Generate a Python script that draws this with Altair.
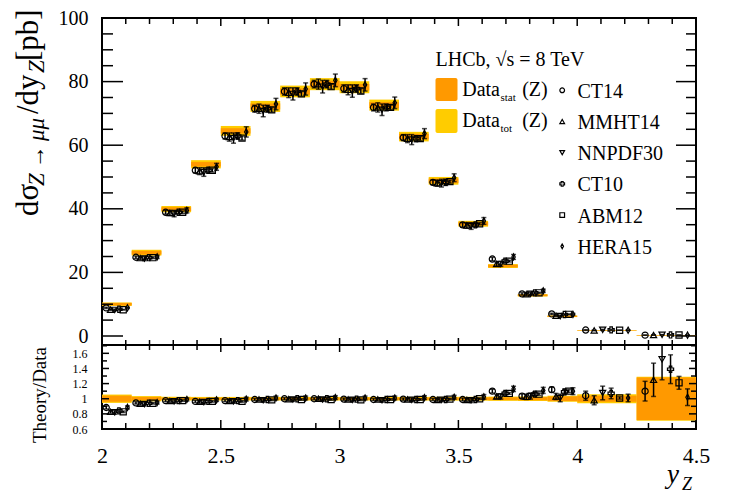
import altair as alt
import pandas as pd

FONT = "Liberation Serif"
ORANGE = "#FF9900"
YELLOW = "#FFCC00"

# ---------------- data ----------------
bin_lo = [2.0, 2.125, 2.25, 2.375, 2.5, 2.625, 2.75, 2.875, 3.0, 3.125, 3.25, 3.375, 3.5, 3.625, 3.75, 3.875, 4.0, 4.25]
bin_hi = [2.125, 2.25, 2.375, 2.5, 2.625, 2.75, 2.875, 3.0, 3.125, 3.25, 3.375, 3.5, 3.625, 3.75, 3.875, 4.0, 4.25, 4.5]
data_xsec = [10.0, 26.2, 39.9, 54.0, 64.5, 72.2, 76.9, 79.2, 78.2, 72.6, 62.7, 48.8, 35.3, 22.0, 12.8, 6.2, 1.8, 0.25]
stat_rel = [0.04, 0.022, 0.014, 0.013, 0.013, 0.013, 0.013, 0.013, 0.013, 0.013, 0.014, 0.015, 0.016, 0.018, 0.02, 0.03, 0.04, 0.28]
tot_rel = [0.055, 0.035, 0.025, 0.024, 0.024, 0.024, 0.024, 0.024, 0.024, 0.024, 0.024, 0.025, 0.026, 0.028, 0.03, 0.04, 0.06, 0.29]

pdf_names = ["CT14", "MMHT14", "NNPDF30", "CT10", "ABM12", "HERA15"]
ratio_ct14 = [0.884, 0.945, 0.975, 0.965, 0.975, 0.99, 1.0, 1.0, 0.995, 0.99, 0.995, 0.99, 0.99, 1.10, 1.035, 1.12, 1.04, 1.10]
ratio_mmht14 = [0.827, 0.935, 0.97, 0.96, 0.97, 0.99, 0.995, 1.0, 0.99, 0.99, 0.99, 0.985, 0.985, 1.03, 1.025, 1.03, 0.98, 1.25]
ratio_nnpdf30 = [0.82, 0.93, 0.965, 0.955, 0.965, 0.98, 0.99, 0.99, 0.985, 0.98, 0.985, 0.985, 0.98, 1.03, 1.035, 1.01, 1.076, 1.52]
ratio_ct10 = [0.84, 0.94, 0.975, 0.965, 0.975, 0.99, 1.0, 1.0, 0.995, 0.99, 0.99, 0.99, 0.99, 1.07, 1.06, 1.09, 1.07, 1.39]
ratio_abm12 = [0.827, 0.94, 0.975, 0.965, 0.965, 0.985, 0.99, 0.99, 0.985, 0.99, 0.99, 0.995, 1.0, 1.07, 1.06, 1.10, 1.01, 1.21]
ratio_hera15 = [0.885, 0.95, 0.99, 0.985, 0.995, 1.01, 1.01, 1.015, 1.01, 1.01, 1.015, 1.02, 1.025, 1.13, 1.11, 1.10, 1.01, 1.02]

err_ct14 = [0.02, 0.015, 0.015, 0.015, 0.015, 0.015, 0.015, 0.015, 0.015, 0.015, 0.015, 0.015, 0.02, 0.025, 0.03, 0.035, 0.06, 0.13]
err_mmht14 = [0.02, 0.02, 0.02, 0.02, 0.02, 0.02, 0.02, 0.02, 0.02, 0.02, 0.02, 0.02, 0.025, 0.03, 0.035, 0.04, 0.06, 0.22]
err_nnpdf30 = [0.025, 0.025, 0.025, 0.025, 0.025, 0.025, 0.025, 0.025, 0.025, 0.025, 0.025, 0.025, 0.03, 0.035, 0.04, 0.05, 0.09, 0.27]
err_ct10 = [0.02, 0.015, 0.015, 0.015, 0.015, 0.015, 0.015, 0.015, 0.015, 0.015, 0.015, 0.02, 0.02, 0.025, 0.03, 0.035, 0.07, 0.19]
err_abm12 = [0.01, 0.01, 0.01, 0.01, 0.01, 0.01, 0.01, 0.01, 0.01, 0.01, 0.01, 0.01, 0.01, 0.012, 0.015, 0.02, 0.015, 0.085]
err_hera15 = [0.02, 0.02, 0.02, 0.02, 0.025, 0.025, 0.025, 0.025, 0.025, 0.025, 0.025, 0.025, 0.03, 0.035, 0.04, 0.045, 0.05, 0.11]

ratios = [ratio_ct14, ratio_mmht14, ratio_nnpdf30, ratio_ct10, ratio_abm12, ratio_hera15]
errors = [err_ct14, err_mmht14, err_nnpdf30, err_ct10, err_abm12, err_hera15]

# tick values / labels
x_major = [2.0, 2.5, 3.0, 3.5, 4.0, 4.5]
x_minor = [2.1, 2.2, 2.3, 2.4, 2.6, 2.7, 2.8, 2.9, 3.1, 3.2, 3.3, 3.4, 3.6, 3.7, 3.8, 3.9, 4.1, 4.2, 4.3, 4.4]
ytop_major = [0, 20, 40, 60, 80, 100]
ytop_minor = [5, 10, 15, 25, 30, 35, 45, 50, 55, 65, 70, 75, 85, 90, 95]
ylow_major = [0.6, 0.8, 1.0, 1.2, 1.4, 1.6]
ylow_minor = [0.7, 0.9, 1.1, 1.3, 1.5, 1.7]

# shapes: circle, triangle, inverted triangle, open cross, square, narrow diamond
pdf_shapes = ["circle", "triangle-up", "triangle-down", "cross", "square",
              "M0,-1L0.55,0L0,1L-0.55,0Z"]

# ---------------- tables ----------------
ddf = pd.DataFrame({"lo": bin_lo, "hi": bin_hi, "val": data_xsec,
                    "srel": stat_rel, "trel": tot_rel})
ddf["t_lo"] = ddf.val * (1 - ddf.trel)
ddf["t_hi"] = ddf.val * (1 + ddf.trel)
ddf["s_lo"] = ddf.val * (1 - ddf.srel)
ddf["s_hi"] = ddf.val * (1 + ddf.srel)
ddf["rt_lo"] = 1 - ddf.trel
ddf["rt_hi"] = 1 + ddf.trel
ddf["rs_lo"] = 1 - ddf.srel
ddf["rs_hi"] = 1 + ddf.srel

rows = []
for i, name in enumerate(pdf_names):
    for j in range(len(bin_lo)):
        r = ratios[i][j]
        e = errors[i][j]
        d = data_xsec[j]
        rows.append({
            "pdf": name,
            "x": bin_lo[j] + (i + 1) / 7.0 * (bin_hi[j] - bin_lo[j]),
            "r": r, "r_lo": r - e, "r_hi": r + e,
            "v": r * d, "v_lo": (r - e) * d, "v_hi": (r + e) * d,
        })
tdf = pd.DataFrame(rows)

ONE = pd.DataFrame({"k": [0]})

W = 594
H_TOP = 327
H_LOW = 84

XS = alt.Scale(domain=[2.0, 4.5], nice=False, zero=False)
YS_TOP = alt.Scale(domain=[-2.83, 100], nice=False, zero=False)
YS_LOW = alt.Scale(domain=[0.6, 1.71], nice=False, zero=False)

AX_Y_TOP = alt.Axis(values=ytop_major, ticks=False, domain=False, grid=False,
                    labelFont=FONT, labelFontSize=20, labelPadding=14,
                    labelColor="black", labelOverlap=False, labelFlush=False, title=None)
AX_Y_LOW = alt.Axis(values=ylow_major, format=".1~f", ticks=False, domain=False, grid=False,
                    labelFont=FONT, labelFontSize=12, labelPadding=15,
                    labelColor="black", labelOverlap=False, labelFlush=False, title=None)
AX_X_LOW = alt.Axis(values=x_major, format=".1~f", ticks=False, domain=False, grid=False,
                    labelFont=FONT, labelFontSize=22, labelPadding=16,
                    labelColor="black", labelOverlap=False, labelFlush=False, title=None)

SHAPE = alt.Shape("pdf:N", scale=alt.Scale(domain=pdf_names, range=pdf_shapes), legend=None)


def txt(s, x, y, size, style="normal", angle=0, align="left", baseline="alphabetic"):
    return alt.Chart(ONE).mark_text(
        text=s, font=FONT, fontSize=size, fontStyle=style, angle=angle,
        align=align, baseline=baseline, color="black"
    ).encode(x=alt.value(x), y=alt.value(y))


def xticks(values, xaxis, y0, y1):
    return alt.Chart(pd.DataFrame({"v": values})).mark_rule(color="black", strokeWidth=1.5).encode(
        x=alt.X("v:Q", scale=XS, axis=xaxis), y=alt.value(y0), y2=alt.value(y1))


def yticks(values, ys, yaxis, x0, x1):
    return alt.Chart(pd.DataFrame({"v": values})).mark_rule(color="black", strokeWidth=1.5).encode(
        y=alt.Y("v:Q", scale=ys, axis=yaxis), x=alt.value(x0), x2=alt.value(x1))


# ---------------- top panel ----------------
top_layers = []
top_layers.append(alt.Chart(ddf).mark_rect(color=YELLOW).encode(
    x=alt.X("lo:Q", scale=XS, axis=None), x2="hi:Q",
    y=alt.Y("t_lo:Q", scale=YS_TOP, axis=AX_Y_TOP), y2="t_hi:Q"))
top_layers.append(alt.Chart(ddf).mark_rect(color=ORANGE).encode(
    x=alt.X("lo:Q", scale=XS, axis=None), x2="hi:Q",
    y=alt.Y("s_lo:Q", scale=YS_TOP, axis=AX_Y_TOP), y2="s_hi:Q"))
top_layers.append(alt.Chart(tdf).mark_rule(color="black", strokeWidth=1.5).encode(
    x=alt.X("x:Q", scale=XS, axis=None),
    y=alt.Y("v_lo:Q", scale=YS_TOP, axis=AX_Y_TOP), y2="v_hi:Q"))
for fld in ["v_lo", "v_hi"]:
    top_layers.append(alt.Chart(tdf).mark_tick(orient="horizontal", size=5, thickness=1.5, color="black").encode(
        x=alt.X("x:Q", scale=XS, axis=None),
        y=alt.Y(fld + ":Q", scale=YS_TOP, axis=AX_Y_TOP)))
top_layers.append(alt.Chart(tdf).mark_point(filled=False, size=38, strokeWidth=1.2, color="black", opacity=1).encode(
    x=alt.X("x:Q", scale=XS, axis=None),
    y=alt.Y("v:Q", scale=YS_TOP, axis=AX_Y_TOP), shape=SHAPE))

# frame ticks
top_layers.append(xticks(x_minor, None, 0, 6))
top_layers.append(xticks(x_major, None, 0, 8))
top_layers.append(xticks(x_minor, None, H_TOP, H_TOP - 5))
top_layers.append(xticks(x_major, None, H_TOP, H_TOP - 7))
top_layers.append(yticks(ytop_minor, YS_TOP, AX_Y_TOP, 0, 11))
top_layers.append(yticks(ytop_major, YS_TOP, AX_Y_TOP, 0, 21))
top_layers.append(yticks(ytop_minor, YS_TOP, AX_Y_TOP, W, W - 10))
top_layers.append(yticks(ytop_major, YS_TOP, AX_Y_TOP, W, W - 20))

# y axis title (built from pieces)
top_layers.append(txt("dσ", -64.5, 198, 31, angle=270))
top_layers.append(txt("Z\u2009→\u2009μμ", -58.5, 168, 23, style="italic", angle=270))
top_layers.append(txt("/dy", -64.5, 96, 31, angle=270))
top_layers.append(txt("Z", -58.5, 55, 23, style="italic", angle=270))
top_layers.append(txt("[pb]", -64.5, 43, 31, angle=270))

# legend
top_layers.append(txt("LHCb,  √s = 8 TeV", 333.5, 48, 20))
top_layers.append(alt.Chart(ONE).mark_rect(color=ORANGE, cornerRadius=2).encode(
    x=alt.value(333.5), x2=alt.value(355.5), y=alt.value(60), y2=alt.value(83)))
top_layers.append(alt.Chart(ONE).mark_rect(color=YELLOW, cornerRadius=2).encode(
    x=alt.value(333.5), x2=alt.value(355.5), y=alt.value(91), y2=alt.value(115)))
top_layers.append(txt("Data", 360.2, 78, 20))
top_layers.append(txt("stat", 398.5, 83, 11))
top_layers.append(txt("(Z)", 420.2, 78, 20))
top_layers.append(txt("Data", 360.2, 109, 20))
top_layers.append(txt("tot", 398.5, 114, 11))
top_layers.append(txt("(Z)", 420.2, 109, 20))
for i, (name, shp) in enumerate(zip(pdf_names, pdf_shapes)):
    yy = 72.3 + 31.2 * i
    top_layers.append(alt.Chart(ONE).mark_point(shape=shp, filled=False, size=22, strokeWidth=1.2,
                                                color="black", opacity=1).encode(
        x=alt.value(460.2), y=alt.value(yy)))
    top_layers.append(txt(name, 475.5, yy + 7.5, 20))

top = alt.layer(*top_layers).properties(width=W, height=H_TOP)

# ---------------- ratio panel ----------------
low_layers = []
low_layers.append(alt.Chart(ddf).mark_rect(color=YELLOW).encode(
    x=alt.X("lo:Q", scale=XS, axis=AX_X_LOW), x2="hi:Q",
    y=alt.Y("rt_lo:Q", scale=YS_LOW, axis=AX_Y_LOW), y2="rt_hi:Q"))
low_layers.append(alt.Chart(ddf).mark_rect(color=ORANGE).encode(
    x=alt.X("lo:Q", scale=XS, axis=AX_X_LOW), x2="hi:Q",
    y=alt.Y("rs_lo:Q", scale=YS_LOW, axis=AX_Y_LOW), y2="rs_hi:Q"))
low_layers.append(alt.Chart(tdf).mark_rule(color="black", strokeWidth=1.5, clip=True).encode(
    x=alt.X("x:Q", scale=XS, axis=AX_X_LOW),
    y=alt.Y("r_lo:Q", scale=YS_LOW, axis=AX_Y_LOW), y2="r_hi:Q"))
for fld in ["r_lo", "r_hi"]:
    low_layers.append(alt.Chart(tdf).mark_tick(orient="horizontal", size=5, thickness=1.5,
                                               color="black", clip=True).encode(
        x=alt.X("x:Q", scale=XS, axis=AX_X_LOW),
        y=alt.Y(fld + ":Q", scale=YS_LOW, axis=AX_Y_LOW)))
low_layers.append(alt.Chart(tdf).mark_point(filled=False, size=38, strokeWidth=1.2, color="black",
                                            opacity=1, clip=True).encode(
    x=alt.X("x:Q", scale=XS, axis=AX_X_LOW),
    y=alt.Y("r:Q", scale=YS_LOW, axis=AX_Y_LOW), shape=SHAPE))

low_layers.append(xticks(x_minor, AX_X_LOW, 0, 5))
low_layers.append(xticks(x_major, AX_X_LOW, 0, 7))
low_layers.append(xticks(x_minor, AX_X_LOW, H_LOW, H_LOW - 6))
low_layers.append(xticks(x_major, AX_X_LOW, H_LOW, H_LOW - 9))
low_layers.append(yticks(ylow_minor, YS_LOW, AX_Y_LOW, 0, 5))
low_layers.append(yticks(ylow_major, YS_LOW, AX_Y_LOW, 0, 7))
low_layers.append(yticks(ylow_minor, YS_LOW, AX_Y_LOW, W, W - 5))
low_layers.append(yticks(ylow_major, YS_LOW, AX_Y_LOW, W, W - 7))

low_layers.append(txt("Theory/Data", -56, 50, 19, angle=270, align="center"))
low_layers.append(txt("y", 565, 138, 27, style="italic"))
low_layers.append(txt("Z", 580, 145, 18, style="italic"))

low = alt.layer(*low_layers).properties(width=W, height=H_LOW)

chart = alt.vconcat(top, low, spacing=0, bounds="flush").properties(
    padding={"left": 3, "top": -1, "right": 5, "bottom": 0},
    background="white",
).configure_view(stroke="black", strokeWidth=2)

chart.save("out.html", embed_options={"renderer": "svg", "actions": False})
